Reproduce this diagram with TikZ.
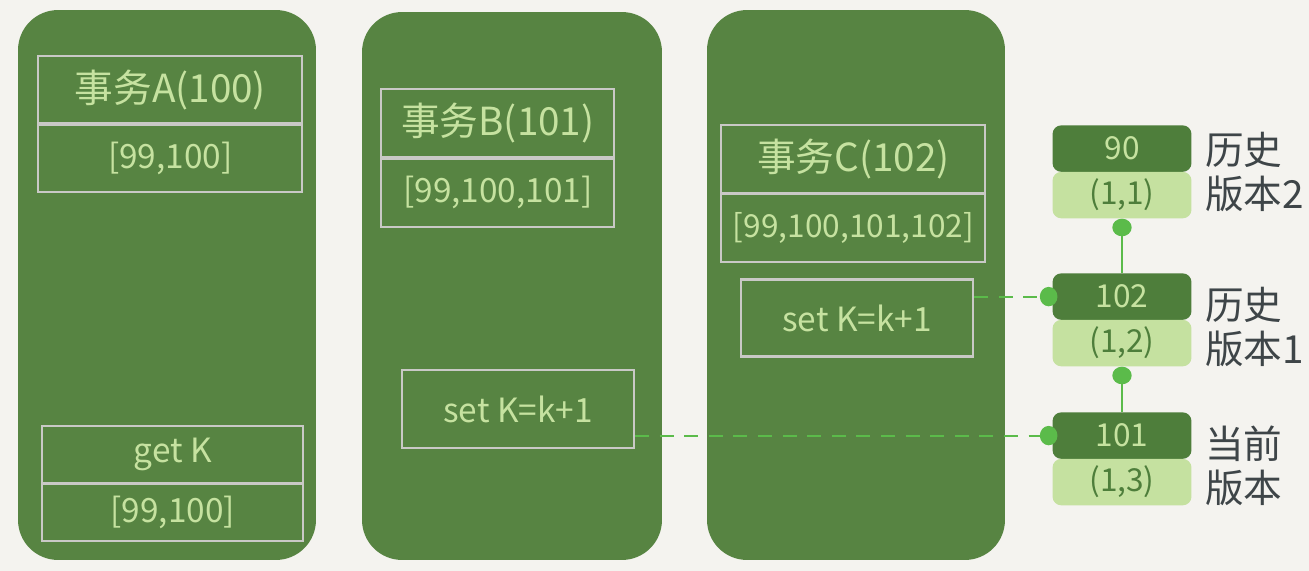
\documentclass[tikz,border=0pt]{standalone}
\usepackage{fontspec}
\setmainfont{Noto Sans CJK SC}
\usetikzlibrary{arrows.meta, positioning, matrix}

\definecolor{bgpaper}{HTML}{F4F3EF}
\definecolor{panelgreen}{HTML}{578442}
\definecolor{chalk}{HTML}{C6E2A0}
\definecolor{cellline}{HTML}{C9C9C6}
\definecolor{verdark}{HTML}{4E7E3B}
\definecolor{verlight}{HTML}{C5E1A0}
\definecolor{linkgreen}{HTML}{5BBB4A}
\definecolor{labelgray}{HTML}{3E4548}

\begin{document}
\begin{tikzpicture}[x=0.02cm, y=-0.02cm,
    panel/.style={fill=panelgreen, rounded corners=0.8cm, minimum width=5.96cm, minimum height=11cm, inner sep=0pt},
    cell/.style={draw=cellline, line width=1.2pt, text=chalk, font=\fontsize{19}{23}\selectfont, inner sep=0pt},
    head/.style={font=\fontsize{22}{26}\selectfont},
    version cell/.style={minimum width=2.78cm, minimum height=0.93cm, rounded corners=5pt, inner sep=0pt, font=\fontsize{18}{21}\selectfont},
    link/.style={linkgreen, line width=1.2pt},
    side label/.style={labelgray, font=\fontsize{22}{25}\selectfont, align=left}]

    % Paper and frame
    \path[use as bounding box, fill=bgpaper] (0,0) rectangle (1309,571);

    % Transaction panels
    \node[panel] (panelA) at (167,285) {};
    \node[panel, minimum width=6cm, minimum height=10.96cm] (panelB) at (512,286) {};
    \node[panel] (panelC) at (856,285) {};

    % Transaction A
    \matrix[matrix of nodes, inner sep=0pt,
        nodes={cell, minimum width=5.28cm, minimum height=1.34cm},
        row sep=-\pgflinewidth, anchor=north west] (stackA) at (37,55) {
        |[head]| 事务A(100) \\
        {[99,100]} \\
    };
    \matrix[matrix of nodes, inner sep=0pt,
        nodes={cell, minimum width=5.22cm, minimum height=1.13cm},
        row sep=-\pgflinewidth, anchor=north west] (readA) at (41,425) {
        get K \\
        {[99,100]} \\
    };

    % Transaction B
    \matrix[matrix of nodes, inner sep=0pt,
        nodes={cell, minimum width=4.66cm, minimum height=1.36cm},
        row sep=-\pgflinewidth, anchor=north west] (stackB) at (380,88) {
        |[head]| 事务B(101) \\
        {[99,100,101]} \\
    };
    \node[cell, minimum width=4.64cm, minimum height=1.56cm] (setB) at (518,409) {set K=k+1};

    % Transaction C
    \matrix[matrix of nodes, inner sep=0pt,
        nodes={cell, minimum width=5.28cm, minimum height=1.35cm},
        row sep=-\pgflinewidth, anchor=north west] (stackC) at (720,124) {
        |[head]| 事务C(102) \\
        |[font=\fontsize{18}{22}\selectfont]| {[99,100,101,102]} \\
    };
    \node[cell, minimum width=4.64cm, minimum height=1.54cm] (setC) at (857,318) {set K=k+1};

    % Version chain
    \matrix[matrix of nodes, inner sep=0pt, nodes={version cell}, row sep=0pt, anchor=north] (ver2) at (1122,125) {
        |[fill=verdark, text=chalk]| 90 \\
        |[fill=verlight, text=verdark]| (1,1) \\
    };
    \matrix[matrix of nodes, inner sep=0pt, nodes={version cell}, row sep=0pt, anchor=north] (ver1) at (1122,273) {
        |[fill=verdark, text=chalk]| 102 \\
        |[fill=verlight, text=verdark]| (1,2) \\
    };
    \matrix[matrix of nodes, inner sep=0pt, nodes={version cell}, row sep=0pt, anchor=north] (ver0) at (1122,412) {
        |[fill=verdark, text=chalk]| 101 \\
        |[fill=verlight, text=verdark]| (1,3) \\
    };

    % Labels
    \node[side label, right=4pt of ver2] {历史\\版本2};
    \node[side label, right=4pt of ver1, yshift=-4pt] {历史\\版本1};
    \node[side label, right=4pt of ver0, yshift=-4pt] {当前\\版本};

    % Links
    \draw[link, -{Circle[length=10pt, width=11pt]}] (ver1-1-1.north) -- (ver2-2-1.south);
    \draw[link, -{Circle[length=10pt, width=11pt]}] (ver0-1-1.north) -- (ver1-2-1.south);
    \draw[link, dash pattern=on 8pt off 6pt, -{Circle[length=10pt, width=11pt]}] (ver1-1-1.west -| setC.east) -- ([xshift=3pt]ver1-1-1.west);
    \draw[link, dash pattern=on 8pt off 6pt, -{Circle[length=10pt, width=11pt]}] (ver0-1-1.west -| setB.east) -- ([xshift=3pt]ver0-1-1.west);
\end{tikzpicture}
\end{document}
